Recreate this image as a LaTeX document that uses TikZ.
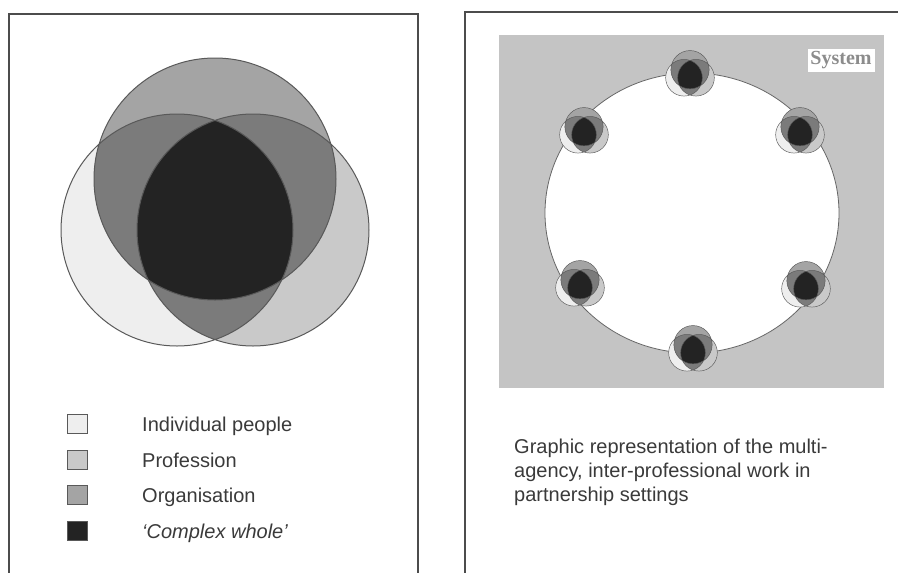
\documentclass[tikz,border=0pt]{standalone}
\usepackage{fontspec}
\setmainfont{Liberation Sans}
\newfontfamily\sysfont{Liberation Serif}
\usepackage{xcolor}
\usepackage{tikz}
\definecolor{vindiv}{HTML}{EEEEEE}
\definecolor{vprof}{HTML}{C9C9C9}
\definecolor{vorg}{HTML}{A4A4A4}
\definecolor{vpair}{HTML}{7B7B7B}
\definecolor{vwhole}{HTML}{232323}
\definecolor{sysgray}{HTML}{C4C4C4}
\definecolor{inkgray}{HTML}{3A3A3A}
\tikzset{
  venn/.pic={
    % the three circles
    \fill[vindiv] (-38,30) circle (116);
    \fill[vprof]  (38,30)  circle (116);
    \fill[vorg]   (0,-21)  circle (121);
    % overlaps of two
    \begin{scope}
      \clip (0,-21) circle (121);
      \fill[vpair] (-38,30) circle (116);
      \fill[vpair] (38,30) circle (116);
    \end{scope}
    \begin{scope}
      \clip (-38,30) circle (116);
      \fill[vpair] (38,30) circle (116);
    \end{scope}
    % overlap of all three
    \begin{scope}
      \clip (0,-21) circle (121);
      \clip (-38,30) circle (116);
      \fill[vwhole] (38,30) circle (116);
    \end{scope}
    \draw[black!65] (-38,30) circle (116) (38,30) circle (116)
                    (0,-21) circle (121);
  }
}

\begin{document}
\begin{tikzpicture}[
  x=1pt, y=-1pt, font=\fontsize{20}{24}\selectfont,
  frame/.style={draw=black!70, line width=1.1pt},
  lgbox/.style={draw=black!65, line width=0.8pt, minimum width=20pt,
                minimum height=19pt, inner sep=0pt},
  lgtext/.style={text=inkgray, inner sep=0pt},
  capt/.style={text=inkgray, inner sep=0pt, align=left},
  syslbl/.style={fill=white, text=black!45, inner sep=0pt, minimum width=67pt,
                 minimum height=23pt,
                 font=\sysfont\bfseries\fontsize{20}{22}\selectfont}]
  \useasboundingbox (0,0) rectangle (898,573);
  % left panel
  \draw[frame] (9,573) -- (9,14) -- (418,14) -- (418,573);
  \pic[line width=1pt] (big) at (215,200) {venn};
  \foreach \fillc/\txt [count=\i] in {vindiv/Individual people,
      vprof/Profession, vorg/Organisation, vwhole/\textit{`Complex whole'}}{
    \node[lgbox, fill=\fillc] (box\i) at (77,388.5+35.5*\i) {};
    \node[lgtext, anchor=base west] (lbl\i) at (142,396+35.5*\i) {\txt};}
  % right panel
  \draw[frame] (465,573) -- (465,12) -- (898,12);
  \fill[sysgray] (499,35) rectangle (884,388);
  \draw[draw=black!60, fill=white, line width=0.8pt] (692,213)
    ellipse [x radius=147, y radius=140];
  \node[syslbl] (sys) at (841,60) {System};
  \foreach \cx/\cy [count=\i] in {690/73, 584/130, 800/130, 580/283,
                                  806/284, 693/348}
    \pic[scale=0.158, line width=0.45pt] (mini\i) at (\cx,\cy) {venn};
  \node[capt, anchor=north west] (capt) at (514,439)
    {Graphic representation of the multi-\\
     agency, inter-professional work in\\
     partnership settings};
\end{tikzpicture}
\end{document}
